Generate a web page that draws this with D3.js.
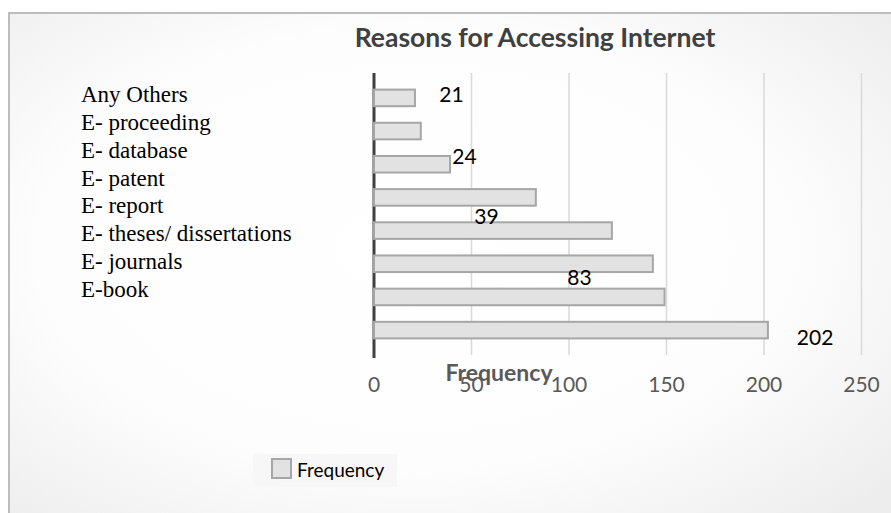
<!DOCTYPE html>
<html>
<head>
<meta charset="utf-8">
<script src="https://cdn.jsdelivr.net/npm/d3@7"></script>
<style>
  html, body { margin: 0; padding: 0; background: #fff; }
  svg { display: block; }
</style>
</head>
<body>
<div id="chart"></div>
<script>
// categories top to bottom, as listed beside the chart
const categories = ['Any Others', 'E- proceeding', 'E- database', 'E- patent', 'E- report',
  'E- theses/ dissertations', 'E- journals', 'E-book'];
const frequency = [21, 24, 39, 83, 122, 143, 149, 202];
const xTicks = [0, 50, 100, 150, 200, 250];
// data labels as they appear (floating, not attached to bars)
const dataLabels = [21, 24, 39, 83, 202];
const labelSpotX = [39.7, 46.4, 57.7, 105.4, 226.2];   // frequency units
const labelSpotY = [0.62, 2.37, 4.08, 5.79, 7.49];      // category-slot units

const W = 891, H = 513;
const plot = { left: 374, right: 861.5, top: 73, bottom: 355 };
const sans = 'Lato, "Open Sans", sans-serif';

const svg = d3.select('#chart').append('svg')
  .attr('width', W)
  .attr('height', H);

// soft gradient background
const defs = svg.append('defs');
const grad = defs.append('radialGradient')
  .attr('id', 'bg')
  .attr('cx', '45%').attr('cy', '45%').attr('r', '70%');
grad.append('stop').attr('offset', '0%').attr('stop-color', '#ffffff');
grad.append('stop').attr('offset', '60%').attr('stop-color', '#fdfdfd');
grad.append('stop').attr('offset', '100%').attr('stop-color', '#ededed');

svg.append('rect')
  .attr('x', 9).attr('y', 13)
  .attr('width', W + 10).attr('height', H + 10)
  .attr('fill', 'url(#bg)')
  .attr('stroke', '#bdbdbd')
  .attr('stroke-width', 2);

// title
svg.append('text')
  .attr('x', 535).attr('y', 47)
  .attr('text-anchor', 'middle')
  .style('font-family', sans)
  .style('font-weight', 'bold')
  .style('font-size', '26.5px')
  .attr('fill', '#404040')
  .text('Reasons for Accessing Internet');

const xScale = d3.scaleLinear()
  .domain([0, 250])
  .range([plot.left, plot.right]);

const yScale = d3.scaleBand()
  .domain(categories)
  .range([plot.top, plot.bottom])
  .padding(0.5);

const slotScale = d3.scaleLinear()
  .domain([0, categories.length])
  .range([plot.top, plot.bottom]);

// gridlines
svg.append('g')
  .selectAll('line')
  .data(xTicks.slice(1))
  .join('line')
    .attr('x1', d => xScale(d)).attr('x2', d => xScale(d))
    .attr('y1', plot.top).attr('y2', plot.bottom)
    .attr('stroke', '#d9d9d9')
    .attr('stroke-width', 1.5);

// x tick labels
svg.append('g')
  .selectAll('text')
  .data(xTicks)
  .join('text')
    .attr('x', d => xScale(d))
    .attr('y', plot.bottom + 37)
    .attr('text-anchor', 'middle')
    .style('font-family', sans)
    .style('font-size', '21px')
    .attr('fill', '#595959')
    .text(d => d);

// vertical category axis line
svg.append('line')
  .attr('x1', xScale(0)).attr('x2', xScale(0))
  .attr('y1', plot.top).attr('y2', plot.bottom + 3)
  .attr('stroke', '#404040')
  .attr('stroke-width', 3);

// bars
svg.append('g')
  .selectAll('rect')
  .data(frequency)
  .join('rect')
    .attr('x', xScale(0))
    .attr('y', (d, i) => yScale(categories[i]))
    .attr('width', d => xScale(d) - xScale(0))
    .attr('height', yScale.bandwidth())
    .attr('fill', '#e2e2e2')
    .attr('stroke', '#a6a6a6')
    .attr('stroke-width', 2);

// floating data labels
svg.append('g')
  .selectAll('text')
  .data(dataLabels)
  .join('text')
    .attr('x', (d, i) => xScale(labelSpotX[i]))
    .attr('y', (d, i) => slotScale(labelSpotY[i]))
    .attr('dy', '0.36em')
    .attr('text-anchor', 'middle')
    .style('font-family', sans)
    .style('font-size', '21px')
    .attr('fill', '#000')
    .text(d => d);

// axis title
svg.append('text')
  .attr('x', 499).attr('y', 381)
  .attr('text-anchor', 'middle')
  .style('font-family', sans)
  .style('font-weight', 'bold')
  .style('font-size', '23px')
  .attr('fill', '#595959')
  .text('Frequency');

// category labels column (serif, separate from the bars)
const labelScale = d3.scalePoint()
  .domain(categories)
  .range([102, 297]);

svg.append('g')
  .selectAll('text')
  .data(categories)
  .join('text')
    .attr('x', 81)
    .attr('y', d => labelScale(d))
    .style('font-family', '"Liberation Serif", "Times New Roman", serif')
    .style('font-size', '23px')
    .attr('fill', '#000')
    .text(d => d);

// legend
const legend = svg.append('g').attr('transform', 'translate(253,454)');
legend.append('rect')
  .attr('width', 144).attr('height', 33)
  .attr('fill', '#f7f7f7');
legend.append('rect')
  .attr('x', 19).attr('y', 5)
  .attr('width', 19).attr('height', 19)
  .attr('fill', '#e2e2e2')
  .attr('stroke', '#a6a6a6')
  .attr('stroke-width', 2);
legend.append('text')
  .attr('x', 44).attr('y', 23)
  .style('font-family', sans)
  .style('font-size', '19px')
  .attr('fill', '#000')
  .text('Frequency');
</script>
</body>
</html>
